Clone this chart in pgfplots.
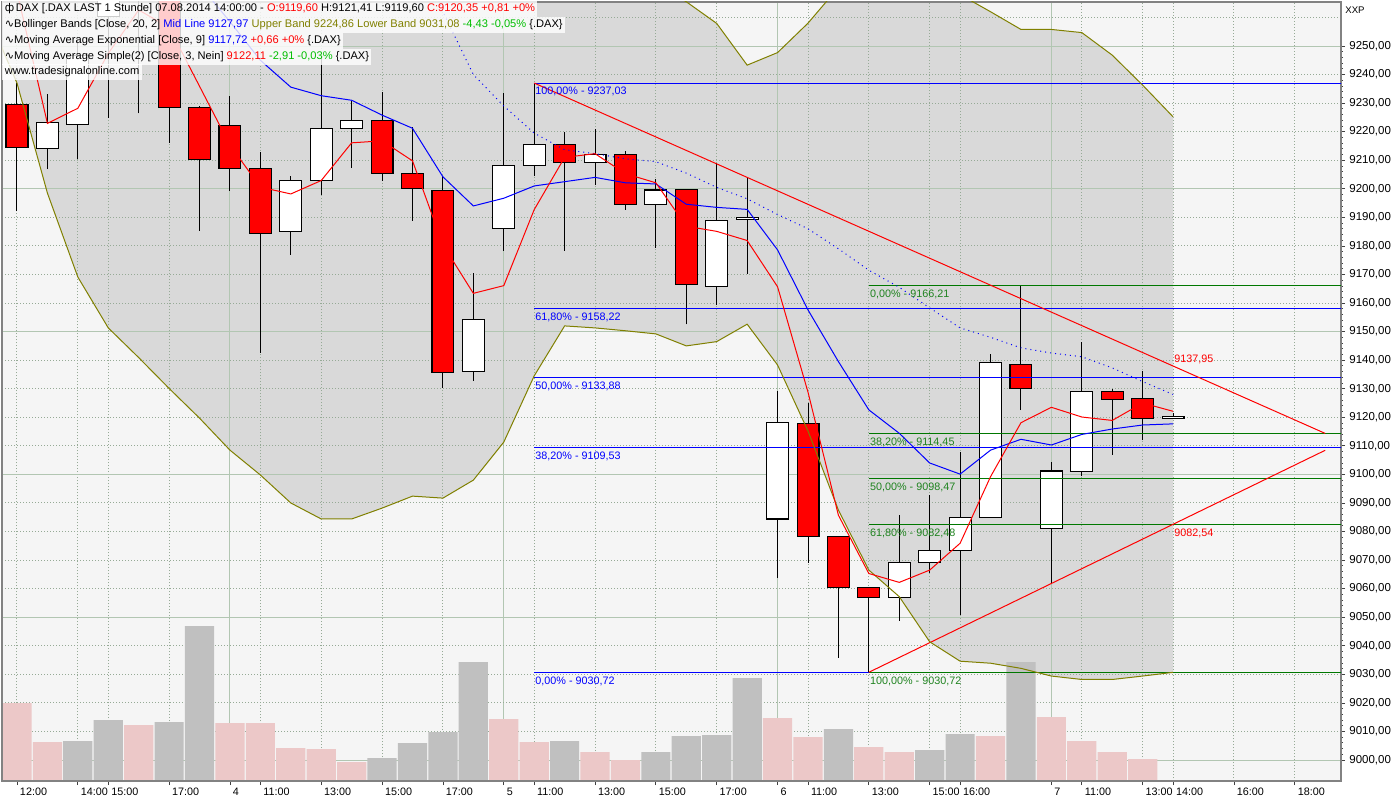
\documentclass[border=0pt]{standalone}
\usepackage{fontspec}
\setmainfont{Liberation Sans}
\newfontfamily\dejavu{DejaVu Sans}
\usepackage{pgfplots}
\pgfplotsset{compat=1.18}
\definecolor{bgc}{RGB}{245,245,245}
\definecolor{bbfill}{RGB}{217,217,217}
\definecolor{gridsolid}{RGB}{178,198,178}
\definecolor{griddot}{RGB}{150,170,150}
\definecolor{volpink}{RGB}{236,200,200}
\definecolor{volgray}{RGB}{192,192,192}
\definecolor{bbolive}{RGB}{128,128,0}
\definecolor{fibgreen}{RGB}{0,120,0}
\definecolor{fibgreentext}{RGB}{30,130,30}
\definecolor{brightgreen}{RGB}{0,190,0}
\definecolor{axgray}{RGB}{130,130,130}
\pgfplotsset{common/.style={width=669.5pt, height=389.5pt, scale only axis, at={(1pt,9.5pt)}, anchor=south west, xmin=-0.493, xmax=43.52}}
% candle: x-left, x, x-right, O, H, L, C, fill
\newcommand{\cndl}[8]{%
\addplot[black, line width=0.5pt] coordinates {(#2,#6) (#2,#5)};
\addplot[draw=black, fill=#8, line width=0.55pt] coordinates {(#1,#4) (#3,#4) (#3,#7) (#1,#7)} -- cycle;}
\newcommand{\fs}{\fontsize{5.4}{6}\selectfont}
\begin{document}
\begin{tikzpicture}
\path[use as bounding box] (0,0) rectangle (700pt,400pt);
% ---------- axis 1: background, Bollinger fill, grid
\begin{axis}[common, ymin=8992.65, ymax=9265.41,
  axis background/.style={fill=bgc}, axis on top,
  axis line style={draw=none}, xticklabels={}, yticklabels={},
  major tick length=0pt, minor tick length=0pt, grid=both,
  ytick={9000,9050,...,9250}, minor ytick={9010,9020,...,9260},
  xtick={7,16,25,34},
  minor xtick={0,2,3,5,8,10,12,14,17,19,21,23,26,28,30,31,35,37,38,40,42},
  major grid style={gridsolid, line width=0.5pt},
  minor grid style={griddot, line width=0.5pt, dash pattern=on 0.5pt off 1pt}]
\addplot[fill=bbfill, draw=none] coordinates {
(-1,9420) (0,9420) (1,9425) (2,9425) (3,9430) (4,9430) (5,9425) (6,9420) (7,9410) (8,9405) (9,9400) (10,9395) (11,9390) (12,9385) (13,9390) (14,9390) (15,9384) (16,9351) (17,9306) (18,9278) (19,9274) (20,9272) (21,9271) (22,9265.5) (23,9257.9) (24,9243.3) (25,9247.7) (26,9258) (27,9270.5) (28,9276.5) (29,9274) (30,9275) (31,9268) (32,9262) (33,9255.8) (34,9255.8) (35,9254.7) (36,9246.8) (37,9236.3) (38,9225.2)
(38,9030.7) (37,9029.4) (36,9028.2) (35,9028.2) (34,9029.4) (33,9032.1) (32,9033.9) (31,9034.6) (30,9041.4) (29,9057.2) (28,9066.5) (27,9087.5) (26,9115.2) (25,9138.3) (24,9152.6) (23,9146.5) (22,9145.0) (21,9149.2) (20,9150.3) (19,9151.3) (18,9152.0) (17,9134.5) (16,9111.3) (15,9098.0) (14,9091.7) (13,9092.4) (12,9088.2) (11,9084.4) (10,9084.4) (9,9090.0) (8,9099.8) (7,9108.5) (6,9119.7) (5,9130.1) (4,9140.9) (3,9151.3) (2,9169.1) (1,9198.5) (0,9237.0) (-1,9262)} -- cycle;
\end{axis}
% ---------- axis 2: volume
\begin{axis}[common, ymin=0, ymax=779, hide axis]
\addplot[ybar, bar width=0.96, bar shift=0pt, fill=volpink, draw=none] coordinates {
(0,78) (1,39) (4,56) (7,58) (8,58) (9,33) (10,32) (11,19) (16,62) (17,39) (19,29) (20,21) (25,63) (26,44) (28,34) (29,29) (32,45) (34,64) (35,40) (36,29) (37,22)};
\addplot[ybar, bar width=0.96, bar shift=0pt, fill=volgray, draw=none] coordinates {
(2,40) (3,61) (5,59) (6,155) (12,23) (13,38) (14,49) (15,119) (18,40) (21,29) (22,45) (23,46) (24,103) (27,52) (30,31) (31,47) (33,119)};
\end{axis}
% ---------- axis 3: price
\begin{axis}[common, ymin=8992.65, ymax=9265.41,
  axis line style={axgray, line width=0.6pt},
  ytick={9000,9010,...,9250}, minor y tick num=4,
  ytick pos=right, yticklabel pos=right, xtick pos=bottom,
  tick align=outside, major tick length=2pt, minor tick length=1pt,
  tick style={color=black!75, line width=0.4pt},
  xtick={0,2,3,5,7,8,10,12,14,16,17,19,21,23,25,26,28,30,31,34,35,37,38,40,42},
  xticklabels={12:00,14:00,15:00,17:00,4,11:00,13:00,15:00,17:00,5,11:00,13:00,15:00,17:00,6,11:00,13:00,15:00,16:00,7,11:00,13:00,14:00,16:00,18:00},
  tick label style={font=\fs},
  xticklabel style={anchor=north west, inner sep=0pt, xshift=1.3pt, yshift=-1.5pt},
  yticklabel style={anchor=west, inner sep=0pt, xshift=2pt, font=\fontsize{5.75}{6}\selectfont,
    /pgf/number format/fixed, /pgf/number format/fixed zerofill,
    /pgf/number format/precision=2, /pgf/number format/use comma,
    /pgf/number format/1000 sep={}, /pgf/number format/assume math mode=true}]
% candles: xl, i, xr, O, H, L, C
\cndl{-0.36}{0}{0.36}{9229.6}{9237}{9192.2}{9214.4}{red}
\cndl{0.64}{1}{1.36}{9214.2}{9233.2}{9206.9}{9223.3}{white}
\cndl{1.64}{2}{2.36}{9222.6}{9252}{9210.4}{9246.8}{white}
\cndl{2.64}{3}{3.36}{9260.3}{9278}{9224.9}{9272}{white}
\cndl{3.64}{4}{4.36}{9274}{9280}{9226.4}{9269}{red}
\cndl{4.64}{5}{5.36}{9270}{9272}{9216.1}{9228.4}{red}
\cndl{5.64}{6}{6.36}{9228.4}{9229}{9185.3}{9210.3}{red}
\cndl{6.64}{7}{7.36}{9222.2}{9232.5}{9199.3}{9207.2}{red}
\cndl{7.64}{8}{8.36}{9207.2}{9212.9}{9142.6}{9184.4}{red}
\cndl{8.64}{9}{9.36}{9185.1}{9204.5}{9176.9}{9203.0}{white}
\cndl{9.64}{10}{10.36}{9203.0}{9246}{9197.9}{9221.2}{white}
\cndl{10.64}{11}{11.36}{9221.2}{9230.9}{9207.4}{9224.0}{white}
\cndl{11.64}{12}{12.36}{9224.0}{9233.9}{9202.8}{9205.3}{red}
\cndl{12.64}{13}{13.36}{9205.4}{9221.5}{9188.8}{9200.2}{red}
\cndl{13.64}{14}{14.36}{9199.3}{9204.6}{9130.4}{9135.7}{red}
\cndl{14.64}{15}{15.36}{9136.1}{9170.4}{9132.8}{9154.3}{white}
\cndl{15.64}{16}{16.36}{9186.2}{9233.4}{9178.3}{9208.2}{white}
\cndl{16.64}{17}{17.36}{9208.2}{9237.03}{9204.6}{9215.6}{white}
\cndl{17.64}{18}{18.36}{9215.6}{9220.0}{9178.3}{9209.3}{red}
\cndl{18.64}{19}{19.36}{9209.3}{9220.9}{9201.3}{9212.1}{white}
\cndl{19.64}{20}{20.36}{9212.1}{9213.2}{9192.7}{9194.6}{red}
\cndl{20.64}{21}{21.36}{9194.6}{9203.4}{9179.4}{9199.6}{white}
\cndl{21.64}{22}{22.36}{9199.8}{9200.0}{9152.5}{9166.6}{red}
\cndl{22.64}{23}{23.36}{9165.9}{9208.9}{9159.4}{9189.0}{white}
\cndl{23.64}{24}{24.36}{9189.3}{9204.2}{9170.3}{9190.0}{white}
\cndl{24.64}{25}{25.36}{9084.4}{9129.2}{9063.8}{9118.2}{white}
\cndl{25.64}{26}{26.36}{9117.9}{9125.1}{9069.1}{9078.3}{red}
\cndl{26.64}{27}{27.36}{9078.3}{9078.3}{9035.8}{9060.5}{red}
\cndl{27.64}{28}{28.36}{9060.5}{9060.5}{9030.72}{9057.0}{red}
\cndl{28.64}{29}{29.36}{9057.0}{9085.8}{9048.8}{9069.2}{white}
\cndl{29.64}{30}{30.36}{9069.2}{9092.8}{9065.4}{9073.4}{white}
\cndl{30.64}{31}{31.36}{9073.3}{9107.9}{9050.9}{9085.0}{white}
\cndl{31.64}{32}{32.36}{9085.0}{9142.2}{9085.0}{9139.2}{white}
\cndl{32.64}{33}{33.36}{9138.5}{9166.21}{9122.5}{9130.1}{red}
\cndl{33.64}{34}{34.36}{9081.1}{9104.4}{9061.5}{9101.2}{white}
\cndl{34.64}{35}{35.36}{9101.1}{9146.5}{9099.4}{9129.1}{white}
\cndl{35.64}{36}{36.36}{9129.1}{9129.8}{9106.9}{9126.3}{red}
\cndl{36.64}{37}{37.36}{9126.6}{9136.2}{9112.0}{9119.6}{red}
\cndl{37.64}{38}{38.36}{9119.60}{9121.41}{9119.60}{9120.35}{white}
% Fibonacci (blue)
\addplot[blue, line width=0.5pt] coordinates {(17,9237.03) (44,9237.03)};
\addplot[blue, line width=0.5pt] coordinates {(17,9158.22) (44,9158.22)};
\addplot[blue, line width=0.5pt] coordinates {(17,9133.88) (44,9133.88)};
\addplot[blue, line width=0.5pt] coordinates {(17,9109.53) (44,9109.53)};
\addplot[blue, line width=0.5pt] coordinates {(17,9030.72) (44,9030.72)};
% Fibonacci (green)
\addplot[fibgreen, line width=0.5pt] coordinates {(28,9166.21) (44,9166.21)};
\addplot[fibgreen, line width=0.5pt] coordinates {(28,9114.45) (44,9114.45)};
\addplot[fibgreen, line width=0.5pt] coordinates {(28,9098.47) (44,9098.47)};
\addplot[fibgreen, line width=0.5pt] coordinates {(28,9082.48) (44,9082.48)};
\addplot[fibgreen, line width=0.5pt] coordinates {(28,9030.72) (44,9030.72)};
% trend lines
\addplot[red, line width=0.5pt] coordinates {(17,9237.03) (43,9114.36)};
\addplot[red, line width=0.5pt] coordinates {(28,9030.72) (43,9108.45)};
% Bollinger bands
\addplot[bbolive, line width=0.5pt] coordinates {
(-1,9420) (0,9420) (1,9425) (2,9425) (3,9430) (4,9430) (5,9425) (6,9420) (7,9410) (8,9405) (9,9400) (10,9395) (11,9390) (12,9385) (13,9390) (14,9390) (15,9384) (16,9351) (17,9306) (18,9278) (19,9274) (20,9272) (21,9271) (22,9265.5) (23,9257.9) (24,9243.3) (25,9247.7) (26,9258) (27,9270.5) (28,9276.5) (29,9274) (30,9275) (31,9268) (32,9262) (33,9255.8) (34,9255.8) (35,9254.7) (36,9246.8) (37,9236.3) (38,9225.2)};
\addplot[bbolive, line width=0.5pt] coordinates {
(-1,9262) (0,9237.0) (1,9198.5) (2,9169.1) (3,9151.3) (4,9140.9) (5,9130.1) (6,9119.7) (7,9108.5) (8,9099.8) (9,9090.0) (10,9084.4) (11,9084.4) (12,9088.2) (13,9092.4) (14,9091.7) (15,9098.0) (16,9111.3) (17,9134.5) (18,9152.0) (19,9151.3) (20,9150.3) (21,9149.2) (22,9145.0) (23,9146.5) (24,9152.6) (25,9138.3) (26,9115.2) (27,9087.5) (28,9066.5) (29,9057.2) (30,9041.4) (31,9034.6) (32,9033.9) (33,9032.1) (34,9029.4) (35,9028.2) (36,9028.2) (37,9029.4) (38,9030.7)};
\addplot[blue, line width=0.5pt, dash pattern=on 0.5pt off 2pt] coordinates {
(12,9300) (13,9290) (14,9262) (15,9240) (16,9229) (17,9219.5) (18,9213.7) (19,9212.3) (20,9210.5) (21,9209.5) (22,9205.5) (23,9200.5) (24,9196.5) (25,9191) (26,9186) (27,9179) (28,9171.5) (29,9165.5) (30,9158.3) (31,9151.3) (32,9148) (33,9144.3) (34,9142.5) (35,9141.2) (36,9137.3) (37,9132.5) (38,9128.0)};
% EMA 9
\addplot[blue, line width=0.5pt] coordinates {
(5,9287) (6,9271.4) (7,9258.5) (8,9245) (9,9235.6) (10,9232.6) (11,9231.0) (12,9225.8) (13,9221.2) (14,9204.2) (15,9194.0) (16,9196.7) (17,9201.0) (18,9202.5) (19,9204.0) (20,9202.1) (21,9201.7) (22,9194.6) (23,9193.5) (24,9192.8) (25,9178.6) (26,9157.6) (27,9139.5) (28,9122.6) (29,9114.4) (30,9104.0) (31,9100.1) (32,9108.5) (33,9112.3) (34,9110.3) (35,9114.0) (36,9115.9) (37,9117.3) (38,9117.7)};
% SMA 3
\addplot[red, line width=0.5pt] coordinates {
(0,9269) (1,9222.9) (2,9228.2) (3,9247.4) (4,9262.6) (5,9256.5) (6,9235.9) (7,9215.3) (8,9200.6) (9,9198.2) (10,9202.9) (11,9216.1) (12,9216.8) (13,9209.8) (14,9180.4) (15,9163.4) (16,9166.1) (17,9192.7) (18,9211.0) (19,9212.3) (20,9205.3) (21,9202.1) (22,9186.9) (23,9185.1) (24,9181.9) (25,9165.7) (26,9128.8) (27,9085.7) (28,9065.3) (29,9062.2) (30,9066.5) (31,9075.9) (32,9099.2) (33,9118.1) (34,9123.5) (35,9120.1) (36,9118.9) (37,9125.0) (38,9122.1)};
% labels
\begin{scope}[every node/.style={font=\fs, inner sep=0.4pt, anchor=north west, yshift=-1.6pt}]
\node[text=blue] at (axis cs:17,9237.03) {100,00\% - 9237,03};
\node[text=blue] at (axis cs:17,9158.22) {61,80\% - 9158,22};
\node[text=blue] at (axis cs:17,9133.88) {50,00\% - 9133,88};
\node[text=blue] at (axis cs:17,9109.53) {38,20\% - 9109,53};
\node[text=blue] at (axis cs:17,9030.72) {0,00\% - 9030,72};
\node[text=fibgreentext] at (axis cs:28,9166.21) {0,00\% - 9166,21};
\node[text=fibgreentext] at (axis cs:28,9114.45) {38,20\% - 9114,45};
\node[text=fibgreentext] at (axis cs:28,9098.47) {50,00\% - 9098,47};
\node[text=fibgreentext] at (axis cs:28,9082.48) {61,80\% - 9082,48};
\node[text=fibgreentext] at (axis cs:28,9030.72) {100,00\% - 9030,72};
\node[text=red] at (axis cs:38,9082.54) {9082,54};
\end{scope}
\node[text=red, font=\fs, inner sep=0.4pt, anchor=south west, yshift=0.3pt] at (axis cs:38,9137.95) {9137,95};
\end{axis}
% ---------- header texts
\begin{scope}[every node/.style={font=\fontsize{5.55}{6}\selectfont, anchor=west, fill=white, fill opacity=0.8, text opacity=1, inner xsep=1.2pt, inner ysep=1.3pt, text height=4.1pt, text depth=1.2pt}]
\node at (1pt,395.5pt) {{\dejavu ф}\hspace{0.8pt}DAX [.DAX LAST 1 Stunde] 07.08.2014 14:00:00 - \textcolor{red}{O:9119,60} H:9121,41 L:9119,60 \textcolor{red}{C:9120,35 +0,81 +0\%}};
\node at (1pt,387.5pt) {{\dejavu ∿}Bollinger Bands [Close, 20, 2] \textcolor{blue}{Mid Line 9127,97} \textcolor{bbolive}{Upper Band 9224,86 Lower Band 9031,08} \textcolor{brightgreen}{-4,43 -0,05\%} \{.DAX\}};
\node at (1pt,379.5pt) {{\dejavu ∿}Moving Average Exponential [Close, 9] \textcolor{blue}{9117,72} \textcolor{red}{+0,66 +0\%} \{.DAX\}};
\node at (1pt,371.5pt) {{\dejavu ∿}Moving Average Simple(2) [Close, 3, Nein] \textcolor{red}{9122,11} \textcolor{brightgreen}{-2,91 -0,03\%} \{.DAX\}};
\node at (1pt,364pt) {www.tradesignalonline.com};
\end{scope}
\node[font=\fontsize{4.8}{5}\selectfont, anchor=west, inner sep=0pt] at (672.5pt,395pt) {XXP};
\end{tikzpicture}
\end{document}
